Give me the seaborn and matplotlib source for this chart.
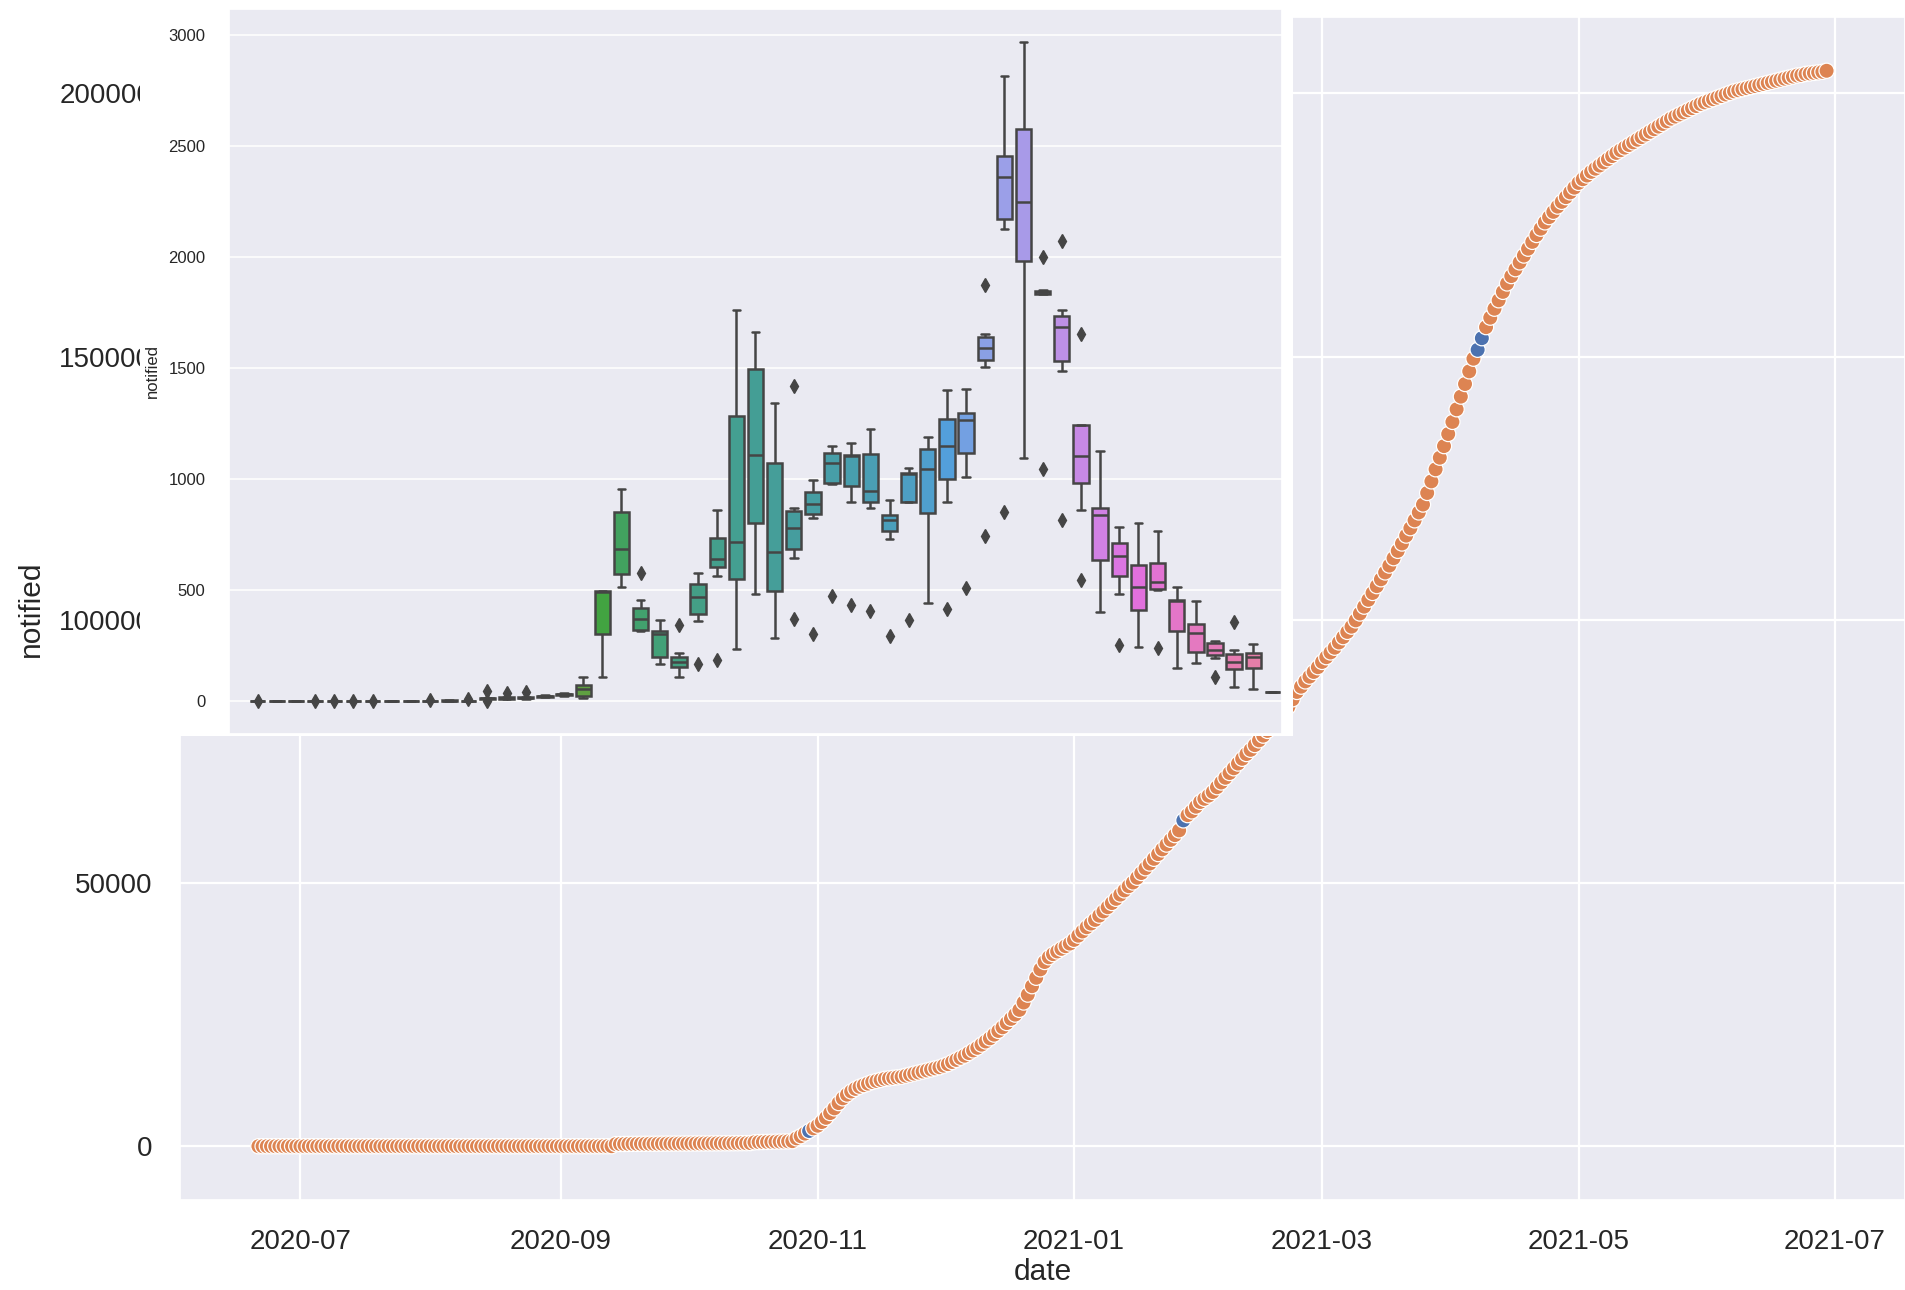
import matplotlib
matplotlib.use("Agg")
import matplotlib.dates as mdates
import matplotlib.pyplot as plt
import pandas as pd
import seaborn as sns
from matplotlib.patches import Rectangle
from matplotlib.ticker import MultipleLocator

# cumulative notified (thousands), one value per day, 2020-06-21 .. 2021-06-29
cum_2020_jun = [0.0] * 10
cum_2020_jul = [0.0] * 31
cum_2020_aug = [0.0] * 31
cum_2020_sep = [0.0, 0.0, 0.0, 0.0, 0.0, 0.0, 0.0, 0.0, 0.0, 0.0, 0.0, 0.0, 0.0,
                0.40, 0.42, 0.43, 0.44, 0.45, 0.45, 0.46, 0.46, 0.47, 0.47, 0.48,
                0.48, 0.49, 0.49, 0.50, 0.50, 0.51]
cum_2020_oct = [0.51, 0.52, 0.52, 0.53, 0.53, 0.54, 0.54, 0.55, 0.55, 0.56, 0.56,
                0.57, 0.57, 0.58, 0.58, 0.60, 0.75, 0.78, 0.80, 0.82, 0.84, 0.86,
                0.88, 0.90, 0.93, 0.96, 1.5, 1.9, 2.4, 2.9, 3.4]
cum_2020_nov = [3.9, 4.6, 5.4, 6.3, 7.2, 8.2, 9.1, 9.8, 10.4, 10.9, 11.3, 11.6,
                11.9, 12.2, 12.4, 12.6, 12.8, 12.9, 13.0, 13.1, 13.2, 13.4, 13.6,
                13.8, 14.0, 14.2, 14.4, 14.6, 14.8, 15.0]
cum_2020_dec = [15.3, 15.6, 16.0, 16.4, 16.8, 17.2, 17.7, 18.2, 18.7, 19.3, 19.9,
                20.5, 21.2, 21.9, 22.6, 23.4, 24.2, 25.0, 25.9, 27.3, 28.8, 30.4,
                32.0, 33.6, 35.0, 35.9, 36.5, 37.0, 37.5, 38.0, 38.5]
cum_2021_jan = [39.2, 40.0, 40.8, 41.6, 42.3, 43.0, 43.8, 44.6, 45.4, 46.2, 47.0,
                47.8, 48.6, 49.4, 50.1, 51.0, 51.9, 52.8, 53.7, 54.6, 55.5, 56.4,
                57.3, 58.2, 59.1, 60.0, 61.9, 62.9, 63.6, 64.5, 65.4]
cum_2021_feb = [66.0, 66.6, 67.3, 68.2, 69.1, 70.0, 70.9, 71.8, 72.7, 73.6, 74.5,
                75.3, 76.2, 77.1, 78.0, 78.9, 79.8, 80.7, 81.6, 82.5, 83.5, 84.9,
                86.3, 87.3, 88.3, 89.2, 90.1, 91.0]
cum_2021_mar = [92.0, 92.9, 93.8, 94.7, 95.7, 96.7, 97.7, 98.7, 99.9, 101.2, 102.5,
                103.8, 105.1, 106.4, 107.7, 109.0, 110.3, 111.7, 113.1, 114.5,
                116.0, 117.4, 118.9, 120.4, 121.9, 124.1, 126.3, 128.6, 130.8,
                133.0, 135.3]
cum_2021_apr = [137.6, 140.0, 142.4, 144.8, 147.2, 149.6, 151.3, 153.5, 155.6,
                157.4, 159.1, 160.7, 162.3, 163.9, 165.3, 166.6, 167.9, 169.2,
                170.5, 171.8, 173.1, 174.3, 175.5, 176.5, 177.5, 178.5, 179.4,
                180.3, 181.2, 182.1]
cum_2021_may = [183.0, 183.7, 184.4, 185.1, 185.7, 186.3, 186.9, 187.5, 188.1,
                188.7, 189.2, 189.7, 190.2, 190.7, 191.2, 191.7, 192.2, 192.7,
                193.2, 193.7, 194.2, 194.7, 195.2, 195.6, 196.0, 196.4, 196.8,
                197.2, 197.6, 198.0, 198.3]
cum_2021_jun = [198.6, 198.9, 199.2, 199.5, 199.8, 200.1, 200.4, 200.6, 200.8,
                201.0, 201.2, 201.4, 201.6, 201.8, 202.0, 202.2, 202.4, 202.6,
                202.8, 203.0, 203.2, 203.4, 203.5, 203.7, 203.8, 203.9, 204.0,
                204.1, 204.3]
flag_dates = ["2020-10-30", "2021-01-27", "2021-04-07", "2021-04-08"]

# daily notified, grouped by week (inset boxplot); first slot has no data
week_labels = [f"w{i:02d}" for i in range(55)]
weeks_01_13 = [
    [0, 0, 0, 0, 0, 0, 2], [0] * 7, [0] * 7, [0, 0, 0, 0, 0, 0, 1],
    [0, 0, 0, 0, 0, 0, 1], [0, 0, 0, 0, 0, 0, 1], [0, 0, 0, 0, 0, 0, 2],
    [0] * 7, [0] * 7, [0, 0, 0, 0, 0, 0, 3], [0, 0, 1, 2, 3, 4, 5],
    [1, 1, 1, 1, 1, 1, 8], [0, 8, 10, 12, 14, 15, 45],
]
weeks_14_26 = [
    [8, 10, 12, 14, 16, 18, 36], [9, 11, 12, 14, 15, 17, 40],
    [18, 19, 20, 22, 23, 24, 26], [24, 26, 28, 30, 32, 34, 36],
    [13, 20, 24, 54, 66, 78, 108], [107, 290, 310, 490, 494, 494, 495],
    [514, 560, 582, 687, 830, 878, 955], [316, 318, 324, 371, 387, 455, 576],
    [166, 190, 210, 301, 310, 322, 367], [107, 150, 156, 178, 179, 215, 344],
    [166, 362, 418, 470, 520, 538, 579], [184, 565, 639, 640, 720, 750, 863],
    [235, 500, 600, 718, 1200, 1368, 1764],
]
weeks_27_40 = [
    [483, 760, 848, 1110, 1450, 1546, 1663], [282, 470, 518, 673, 1000, 1142, 1343],
    [371, 645, 729, 782, 840, 870, 1420], [300, 823, 863, 886, 930, 956, 994],
    [475, 980, 986, 1071, 1110, 1126, 1149], [432, 898, 1044, 1105, 1108, 1112, 1161],
    [406, 868, 926, 946, 1090, 1132, 1224], [291, 732, 800, 814, 830, 844, 906],
    [364, 895, 899, 1025, 1027, 1031, 1051], [441, 820, 878, 1044, 1100, 1168, 1189],
    [414, 898, 1100, 1148, 1230, 1314, 1400], [511, 1009, 1223, 1265, 1290, 1308, 1408],
    [744, 1504, 1572, 1591, 1625, 1655, 1876], [853, 2126, 2216, 2360, 2420, 2492, 2816],
]
weeks_41_54 = [
    [1096, 1900, 2062, 2251, 2500, 2660, 2970], [1047, 1832, 1838, 1842, 1846, 1854, 2000],
    [814, 1489, 1573, 1685, 1709, 1763, 2074], [544, 862, 1100, 1105, 1246, 1246, 1655],
    [403, 600, 668, 837, 860, 882, 1126], [253, 484, 644, 654, 700, 722, 784],
    [244, 400, 422, 514, 600, 624, 804], [241, 500, 508, 537, 610, 638, 766],
    [150, 300, 332, 452, 454, 458, 514], [171, 210, 234, 305, 336, 356, 451],
    [109, 196, 218, 231, 256, 266, 271], [62, 136, 152, 177, 191, 231, 358],
    [54, 140, 162, 199, 210, 222, 259], [39],
]

sns.set_theme(style="darkgrid")
plt.rcParams["font.family"] = ["Liberation Sans", "DejaVu Sans"]
text_color = "#262626"

cum = (cum_2020_jun + cum_2020_jul + cum_2020_aug + cum_2020_sep + cum_2020_oct
       + cum_2020_nov + cum_2020_dec + cum_2021_jan + cum_2021_feb + cum_2021_mar
       + cum_2021_apr + cum_2021_may + cum_2021_jun)
dates = pd.date_range("2020-06-21", "2021-06-29", freq="D")
main_df = pd.DataFrame({"date": dates, "notified": [v * 1000 for v in cum]})
main_df["flag"] = ["flag" if d in pd.to_datetime(flag_dates) else "other" for d in dates]

rows = []
for label, vals in zip(week_labels[1:], weeks_01_13 + weeks_14_26 + weeks_27_40 + weeks_41_54):
    rows += [(label, v) for v in vals]
box_df = pd.DataFrame(rows, columns=["week", "notified"])

W, H = 1905, 1290
fig = plt.figure(figsize=(W / 100, H / 100), dpi=100)

ax = fig.add_axes([180 / W, 1 - 1200 / H, 1725 / W, 1183 / H])
sns.scatterplot(data=main_df, x="date", y="notified", hue="flag",
                palette={"other": "#DD8452", "flag": "#4C72B0"},
                s=120, linewidth=0.9, legend=False, ax=ax)
ax.xaxis.set_major_locator(mdates.MonthLocator(bymonth=[1, 3, 5, 7, 9, 11]))
ax.xaxis.set_major_formatter(mdates.DateFormatter("%Y-%m"))
ax.yaxis.set_major_locator(MultipleLocator(50000))
ax.grid(linewidth=1.6)
ax.tick_params(axis="x", labelsize=20, pad=15, colors=text_color)
ax.tick_params(axis="y", labelsize=20, pad=14, colors=text_color)
ax.set_xlabel("date", fontsize=21.5, color=text_color, labelpad=2)
ax.set_ylabel("notified", fontsize=21.5, color=text_color, labelpad=10)

# white backdrop of the inset figure, covering part of the main plot
fig.add_artist(Rectangle((140 / W, 1 - 736 / H), 1153 / W, 736 / H,
                         transform=fig.transFigure, facecolor="white",
                         edgecolor="none", zorder=1))

ax_in = fig.add_axes([229 / W, 1 - 734 / H, 1053 / W, 725 / H], zorder=2)
sns.boxplot(data=box_df, x="week", y="notified", hue="week",
            order=week_labels, hue_order=week_labels,
            palette=sns.husl_palette(len(week_labels)), dodge=False, legend=False,
            linecolor="#454545", linewidth=1.8, fliersize=7,
            flierprops={"marker": "d", "markerfacecolor": "#454545",
                        "markeredgecolor": "#454545"},
            ax=ax_in)
ax_in.set_xticklabels([])
ax_in.set_xlabel("")
ax_in.grid(axis="y", linewidth=1.1)
ax_in.tick_params(axis="y", labelsize=12, pad=11, colors=text_color)
ax_in.set_ylabel("notified", fontsize=12, color=text_color, labelpad=6)

fig.savefig("out.png", dpi=100)
